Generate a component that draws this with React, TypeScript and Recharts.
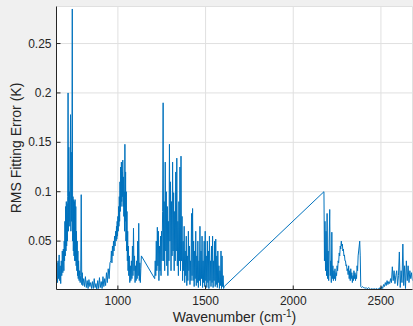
import { LineChart, Line, XAxis, YAxis, CartesianGrid, Label } from "recharts";

// tick values
const xTicks = [1000, 1500, 2000, 2500];
const yTicks = [0.05, 0.1, 0.15, 0.2, 0.25];

// RMS fitting error (K)
// 650-692 cm-1, every 3
const band650 = [
  0.015, 0.028, 0.008, 0.03, 0.012, 0.036, 0.01, 0.025, 0.007, 0.03,
  0.015, 0.04, 0.018, 0.042, 0.02,
];
// 694-776 cm-1, every 2
const band694 = [
  0.05, 0.03, 0.07, 0.035, 0.085, 0.04, 0.09, 0.045, 0.088, 0.05,
  0.095, 0.2, 0.06, 0.145, 0.07, 0.1, 0.065, 0.12, 0.178, 0.06,
  0.14, 0.07, 0.13, 0.285, 0.05, 0.095, 0.04, 0.092, 0.035, 0.09,
  0.03, 0.092, 0.03, 0.085, 0.025, 0.06, 0.02, 0.05, 0.015, 0.04,
  0.012, 0.03,
];
// 779-800 cm-1, every 3
const band779 = [0.01, 0.02, 0.008, 0.015, 0.097, 0.006, 0.018, 0.005];
// 805-955 cm-1, every 5
const band805 = [
  0.012, 0.004, 0.014, 0.003, 0.01, 0.002, 0.011, 0.004, 0.008, 0.002,
  0.009, 0.002, 0.012, 0.003, 0.007, 0.001, 0.01, 0.002, 0.013, 0.003,
  0.009, 0.002, 0.014, 0.004, 0.012, 0.005, 0.018, 0.008, 0.022, 0.012,
  0.028,
];
// 960-987 cm-1, every 3
const band960 = [0.03, 0.04, 0.028, 0.045, 0.035, 0.05, 0.04, 0.055, 0.045, 0.06];
// 990-1060 cm-1, every 2
const band990 = [
  0.05, 0.065, 0.052, 0.07, 0.055, 0.075, 0.06, 0.085, 0.065, 0.095,
  0.07, 0.11, 0.08, 0.125, 0.085, 0.13, 0.09, 0.12, 0.095, 0.132,
  0.085, 0.115, 0.075, 0.1, 0.06, 0.148, 0.07, 0.12, 0.05, 0.1,
  0.04, 0.08, 0.03, 0.06, 0.02, 0.045,
];
// 1062-1134 cm-1, every 3
const band1062 = [
  0.015, 0.035, 0.008, 0.025, 0.01, 0.03, 0.012, 0.045, 0.015, 0.063,
  0.02, 0.035, 0.008, 0.025, 0.01, 0.03, 0.012, 0.05, 0.015, 0.068,
  0.01, 0.028, 0.008, 0.022, 0.035,
];
// 1210-1606 cm-1, every 3
const band1210 = [
  0.012, 0.03, 0.015, 0.05, 0.02, 0.064, 0.025, 0.06, 0.01, 0.045,
  0.02, 0.055, 0.015, 0.06, 0.03, 0.08, 0.19, 0.03, 0.09, 0.02,
  0.13, 0.04, 0.1, 0.025, 0.085, 0.015, 0.07, 0.03, 0.148, 0.05,
  0.11, 0.02, 0.09, 0.035, 0.13, 0.04, 0.099, 0.02, 0.08, 0.03,
  0.12, 0.04, 0.134, 0.025, 0.07, 0.015, 0.09, 0.03, 0.125, 0.02,
  0.136, 0.03, 0.075, 0.01, 0.05, 0.02, 0.065, 0.008, 0.04, 0.015,
  0.055, 0.005, 0.035, 0.01, 0.06, 0.02, 0.045, 0.006, 0.03, 0.01,
  0.078, 0.015, 0.083, 0.01, 0.05, 0.004, 0.04, 0.012, 0.06, 0.005,
  0.035, 0.008, 0.05, 0.003, 0.03, 0.01, 0.065, 0.005, 0.04, 0.012,
  0.055, 0.003, 0.03, 0.008, 0.05, 0.004, 0.06, 0.01, 0.035, 0.003,
  0.05, 0.008, 0.04, 0.002, 0.055, 0.01, 0.03, 0.004, 0.045, 0.008,
  0.055, 0.003, 0.03, 0.01, 0.05, 0.004, 0.052, 0.006, 0.035, 0.003,
  0.04, 0.008, 0.025, 0.002, 0.02, 0.005, 0.04, 0.002, 0.035, 0.004,
  0.015, 0.002, 0.004,
];
// 2175-2382 cm-1, every 3
const band2175 = [
  0.1, 0.03, 0.07, 0.02, 0.06, 0.015, 0.078, 0.012, 0.04, 0.01,
  0.05, 0.082, 0.015, 0.03, 0.008, 0.059, 0.012, 0.025, 0.01, 0.02,
  0.012, 0.022, 0.01, 0.018, 0.015, 0.025, 0.02, 0.03, 0.028, 0.038,
  0.035, 0.045, 0.042, 0.05, 0.045, 0.047, 0.04, 0.042, 0.035, 0.036,
  0.03, 0.03, 0.025, 0.026, 0.02, 0.022, 0.016, 0.025, 0.012, 0.02,
  0.01, 0.022, 0.012, 0.018, 0.008, 0.015, 0.01, 0.02, 0.012, 0.018,
  0.01, 0.016, 0.012, 0.025, 0.02, 0.035, 0.04, 0.045, 0.05, 0.035,
];
// 2385-2680 cm-1, every 5
const band2385 = [
  0.004, 0.003, 0.004, 0.003, 0.003, 0.002, 0.003, 0.002, 0.002, 0.003,
  0.002, 0.001, 0.002, 0.001, 0.002, 0.001, 0.002, 0.001, 0.002, 0.001,
  0.002, 0.001, 0.003, 0.001, 0.004, 0.002, 0.006, 0.004, 0.008, 0.005,
  0.01, 0.006, 0.009, 0.007, 0.012, 0.008, 0.024, 0.01, 0.02, 0.007,
  0.015, 0.02, 0.005, 0.015, 0.039, 0.003, 0.02, 0.008, 0.047, 0.005,
  0.025, 0.002, 0.03, 0.01, 0.025, 0.008, 0.02, 0.012, 0.018, 0.01,
];

const bands = [
  { start: 650, step: 3, values: band650 },
  { start: 694, step: 2, values: band694 },
  { start: 779, step: 3, values: band779 },
  { start: 805, step: 5, values: band805 },
  { start: 960, step: 3, values: band960 },
  { start: 990, step: 2, values: band990 },
  { start: 1062, step: 3, values: band1062 },
  { start: 1210, step: 3, values: band1210 },
  { start: 2175, step: 3, values: band2175 },
  { start: 2385, step: 5, values: band2385 },
];

const data = bands.flatMap((b) =>
  b.values.map((v, i) => ({ wn: b.start + i * b.step, err: v }))
);

const ink = "#262626";
const font = "'Liberation Sans', Arial, Helvetica, sans-serif";

function BottomTick({ x, y, payload }: any) {
  return (
    <g>
      <line x1={x} x2={x} y1={y} y2={y - 4} stroke={ink} />
      <text x={x} y={y + 15} textAnchor="middle" fontSize={12} fill={ink} fontFamily={font}>
        {payload.value}
      </text>
    </g>
  );
}

function TopTick({ x, y }: any) {
  return <line x1={x} x2={x} y1={y} y2={y + 4} stroke={ink} />;
}

function LeftTick({ x, y, payload }: any) {
  return (
    <g>
      <line x1={x} x2={x + 4} y1={y} y2={y} stroke={ink} />
      <text x={x - 5} y={y + 4} textAnchor="end" fontSize={12} fill={ink} fontFamily={font}>
        {payload.value}
      </text>
    </g>
  );
}

function RightTick({ x, y }: any) {
  return <line x1={x} x2={x - 4} y1={y} y2={y} stroke={ink} />;
}

export default function App() {
  return (
    <div style={{ width: 413, height: 326, background: "#f0f0f0" }}>
      <style>{"body{margin:0}"}</style>
      <LineChart
        width={413}
        height={326}
        data={data}
        margin={{ top: 6.5, right: 0.5, left: 0, bottom: 0 }}
      >
        <CartesianGrid fill="#ffffff" stroke="#e0e0e0" />
        <XAxis
          dataKey="wn"
          type="number"
          domain={[650, 2680]}
          ticks={xTicks}
          interval={0}
          allowDataOverflow
          height={36.5}
          tickSize={0}
          tickMargin={0}
          tick={<BottomTick />}
          axisLine={{ stroke: ink }}
        >
          <Label
            content={({ viewBox }: any) => (
              <text
                x={viewBox.x + viewBox.width / 2}
                y={viewBox.y + 32.5}
                textAnchor="middle"
                fontSize={14}
                fill={ink}
                fontFamily={font}
              >
                Wavenumber (cm
                <tspan dy={-5} fontSize={10}>-1</tspan>
                <tspan dy={5}>)</tspan>
              </text>
            )}
          />
        </XAxis>
        <XAxis
          xAxisId="top"
          orientation="top"
          type="number"
          domain={[650, 2680]}
          ticks={xTicks}
          interval={0}
          allowDataOverflow
          height={0}
          tickSize={0}
          tickMargin={0}
          tick={<TopTick />}
          axisLine={{ stroke: ink }}
        />
        <YAxis
          type="number"
          domain={[0.001, 0.2875]}
          ticks={yTicks}
          interval={0}
          allowDataOverflow
          width={56.5}
          tickSize={0}
          tickMargin={0}
          tick={<LeftTick />}
          axisLine={{ stroke: ink }}
        >
          <Label
            content={({ viewBox }: any) => (
              <text
                transform={`translate(20.5, ${viewBox.y + viewBox.height / 2}) rotate(-90)`}
                textAnchor="middle"
                fontSize={14}
                fill={ink}
                fontFamily={font}
              >
                RMS Fitting Error (K)
              </text>
            )}
          />
        </YAxis>
        <YAxis
          yAxisId="right"
          orientation="right"
          type="number"
          domain={[0.001, 0.2875]}
          ticks={yTicks}
          interval={0}
          allowDataOverflow
          width={0}
          tickSize={0}
          tickMargin={0}
          tick={<RightTick />}
          axisLine={{ stroke: ink }}
        />
        <Line
          type="linear"
          dataKey="err"
          stroke="#0072BD"
          strokeWidth={1}
          dot={false}
          isAnimationActive={false}
        />
      </LineChart>
    </div>
  );
}
